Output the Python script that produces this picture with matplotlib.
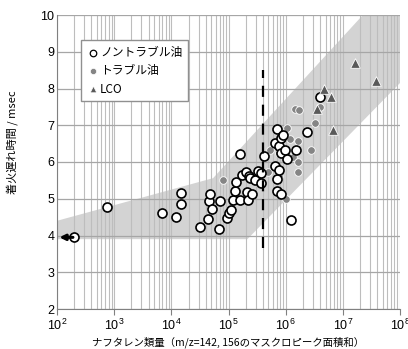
import matplotlib
matplotlib.use("Agg")
import matplotlib.pyplot as plt
from matplotlib.ticker import LogLocator, FixedLocator

plt.rcParams['font.family'] = ['Liberation Sans', 'Noto Sans CJK JP']
plt.rcParams['mathtext.fontset'] = 'custom'
plt.rcParams['mathtext.rm'] = 'Liberation Sans'
plt.rcParams['mathtext.it'] = 'Liberation Sans'
plt.rcParams['mathtext.default'] = 'regular'

# non-trouble oil (open circles)
open_x = [200, 740, 6900, 12000, 14500, 14800, 32000, 43000, 45000, 48000,
          51000, 69000, 71000, 93000, 100000, 112000, 122000, 129000, 135000, 158000,
          162000, 170000, 204000, 209000, 219000, 229000, 240000, 257000, 288000, 331000,
          372000, 372000, 417000, 646000, 660000, 692000, 692000, 692000, 776000, 776000,
          813000, 813000, 832000, 912000, 977000, 1.05e6, 1.26e6, 1.51e6, 2.4e6, 3.98e6]
open_y = [3.95, 4.77, 4.61, 4.51, 4.86, 5.17, 4.24, 4.45, 4.95, 5.12,
          4.73, 4.19, 4.93, 4.47, 4.60, 4.70, 4.97, 5.20, 5.45, 4.97,
          6.22, 5.65, 5.73, 5.18, 4.97, 5.62, 5.56, 5.14, 5.50, 5.76,
          5.70, 5.42, 6.15, 6.53, 5.89, 6.90, 5.53, 5.20, 6.43, 5.78,
          6.25, 5.12, 6.64, 6.73, 6.34, 6.07, 4.43, 6.33, 6.82, 7.76]

# trouble oil (grey dots)
trb_x = [81000, 500000, 537000, 776000, 776000, 977000, 1.02e6, 1.05e6, 1.07e6, 1.2e6,
         1.35e6, 1.45e6, 1.62e6, 1.62e6, 1.66e6, 1.74e6, 2.82e6, 3.24e6, 3.98e6]
trb_y = [5.51, 5.72, 6.33, 6.24, 5.62, 6.35, 4.99, 6.20, 6.92, 6.62,
         6.14, 7.43, 6.01, 5.74, 6.57, 7.41, 6.33, 7.07, 7.51]

# LCO (triangles)
lco_x = [3.55e6, 4.68e6, 6.17e6, 6.6e6, 1.62e7, 3.8e7]
lco_y = [7.43, 8.00, 7.76, 6.87, 8.70, 8.20]

# shaded band outline
band_x = [100, 53700, 1e8, 1e8, 214000, 100]
band_y = [4.40, 5.56, 11.1, 8.15, 3.90, 3.90]

ylabel = '着火遅れ時間 / msec'
xlabel = 'ナフタレン類量（m/z=142, 156のマスクロピーク面積和）'

fig = plt.figure(figsize=(4.08, 3.49), dpi=100)
ax = fig.add_axes([57/408, 40/349, 343/408, 294/349])

ax.fill(band_x, band_y, color='#d3d3d3', zorder=0, lw=0)

ax.scatter(trb_x, trb_y, s=30, c='#858585', edgecolors='white', linewidths=0.6, zorder=3)
ax.scatter(open_x, open_y, s=42, c='white', edgecolors='black', linewidths=1.2, zorder=4)
ax.scatter(lco_x, lco_y, s=48, marker='^', c='#5a5a5a', edgecolors='white', linewidths=0.6, zorder=5)

ax.plot([4e5, 4e5], [3.65, 8.5], color='black', lw=1.6, dashes=(5, 3.5), zorder=6)
ax.annotate('', xy=(110, 3.95), xytext=(190, 3.95),
            arrowprops=dict(arrowstyle='-|>', color='black', lw=2.2,
                            mutation_scale=8, shrinkA=0, shrinkB=0), zorder=6)

ax.set_xscale('log')
ax.set_xlim(1e2, 1e8)
ax.set_ylim(2, 10)
ax.set_yticks(range(2, 11))
ax.xaxis.set_major_locator(FixedLocator([10**k for k in range(2, 9)]))
ax.xaxis.set_minor_locator(LogLocator(base=10, subs=range(2, 10), numticks=20))
ax.set_xticklabels(['$10^{%d}$' % k for k in range(2, 9)])
ax.set_axisbelow(True)
ax.grid(True, axis='y', which='major', color='#a6a6a6', lw=0.9)
ax.grid(True, axis='x', which='both', color='#bdbdbd', lw=0.8)
ax.tick_params(axis='both', which='major', labelsize=9, length=4, color='#808080', pad=2)
ax.tick_params(axis='x', which='minor', length=0)
ax.tick_params(axis='y', length=0)
for s in ['top', 'right']:
    ax.spines[s].set_visible(False)
for s in ['left', 'bottom']:
    ax.spines[s].set_color('#808080')

ax.set_xlabel(xlabel, family=['Noto Sans CJK JP'], fontsize=7.5, labelpad=3)
fig.text(12/408, 1 - 142/349, ylabel, family=['Noto Sans CJK JP'], fontsize=8,
         rotation=90, ha='center', va='center')

h1 = ax.scatter([], [], s=22, c='white', edgecolors='black', linewidths=0.9)
h2 = ax.scatter([], [], s=20, c='#858585', edgecolors='white', linewidths=0.5)
h3 = ax.scatter([], [], s=22, marker='^', c='#5a5a5a', edgecolors='white', linewidths=0.5)
leg = ax.legend([h1, h2, h3], ['ノントラブル油', 'トラブル油', 'LCO'],
                loc='upper left', bbox_to_anchor=(0.07, 0.915), borderaxespad=0,
                frameon=True, fancybox=False, edgecolor='#909090', framealpha=1,
                prop={'family': ['Noto Sans CJK JP'], 'size': 8.5},
                handletextpad=0.1, handlelength=1.0, labelspacing=0.45,
                borderpad=0.5)
leg.get_frame().set_linewidth(1.0)
leg.set_zorder(10)

fig.savefig('out.png', dpi=100)
